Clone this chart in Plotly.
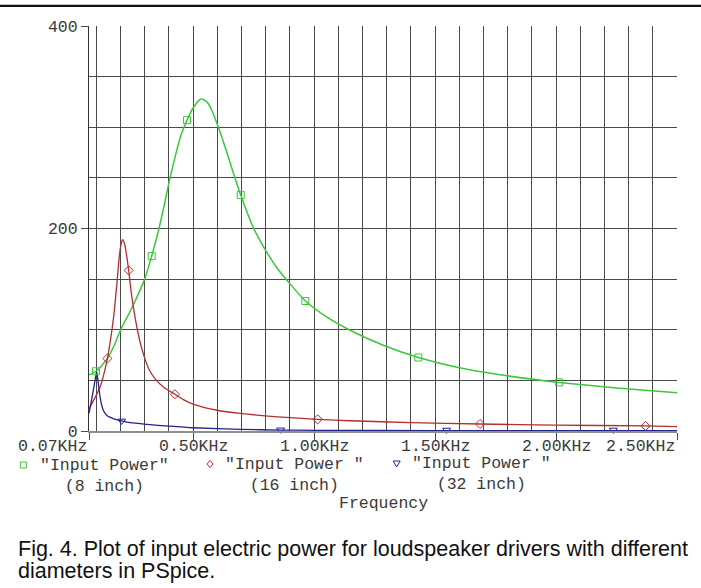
import plotly.graph_objects as go

# ---------------- data ----------------
green_f = [0.07, 0.10, 0.146, 0.173, 0.201, 0.25, 0.30, 0.329, 0.355, 0.38, 0.40, 0.425,
           0.45, 0.475, 0.50, 0.532, 0.555, 0.575, 0.60, 0.625, 0.653, 0.697, 0.749, 0.801,
           0.85, 0.90, 0.964, 1.05, 1.149, 1.286, 1.431, 1.60, 1.80, 2.013, 2.25, 2.5]
green_p = [55.5, 59, 71.6, 84, 100, 123, 150, 172.7, 196, 222, 245, 270,
           292, 307, 319, 328, 325.5, 318, 303, 286, 265, 233, 201, 178,
           160, 145.5, 128.4, 113, 99.5, 84.7, 72.6, 62.5, 54.5, 48, 42.5, 37.7]

red_f = [0.07, 0.095, 0.115, 0.13, 0.146, 0.16, 0.173, 0.185, 0.195, 0.203, 0.209, 0.217,
         0.225, 0.234, 0.245, 0.257, 0.27, 0.285, 0.30, 0.32, 0.345, 0.38, 0.425, 0.46,
         0.50, 0.60, 0.694, 0.85, 1.015, 1.149, 1.40, 1.686, 2.0, 2.37, 2.5]
red_p = [22, 33, 43, 55, 71.6, 92, 115, 145, 172, 185, 189, 185,
         174, 158.6, 136, 117, 100, 84, 72, 60, 51, 43, 36.3, 31,
         26.6, 20.5, 17.4, 14, 11.5, 10.1, 8.3, 6.9, 5.8, 5, 4.3]

blue_f = [0.07, 0.08, 0.09, 0.097, 0.102, 0.107, 0.112, 0.12, 0.13, 0.145, 0.17, 0.205,
          0.24, 0.31, 0.40, 0.50, 0.70, 0.862, 1.0, 1.5, 2.0, 2.5]
blue_p = [17.4, 30, 43, 53, 58.4, 50, 40, 28, 20, 15, 12.3, 10,
          8.2, 6.5, 4.8, 3.2, 1.6, 0.9, 0.7, 0.4, 0.3, 0.3]

# marker positions along each trace
green_mf = [0.099, 0.329, 0.475, 0.697, 0.964, 1.431, 2.013]
green_mp = [59, 172.7, 307, 233, 128.4, 72.6, 48]
red_mf = [0.146, 0.234, 0.425, 1.015, 1.686, 2.37]
red_mp = [71.6, 158.6, 36.3, 11.5, 6.9, 5]
blue_mf = [0.205, 0.862, 1.548, 2.237]
blue_mp = [10, 1.2, 1.0, 1.0]

x_tick_vals = [0.07, 0.5, 1.0, 1.5, 2.0, 2.5]
x_tick_text = ["0.07KHz", "0.50KHz", "1.00KHz", "1.50KHz", "2.00KHz", "2.50KHz"]
y_tick_vals = [0, 200, 400]
y_tick_text = ["0", "200", "400"]

series_names = ['"Input Power"', '"Input Power "', '"Input Power "']
series_sub = ["(8 inch)", "(16 inch)", "(32 inch)"]
colors = ["#3cc83c", "#b42d32", "#23238c"]
x_title = "Frequency"
caption1 = "Fig. 4. Plot of input electric power for loudspeaker drivers with different"
caption2 = "diameters in PSpice."

# ---------------- layout helpers ----------------
L, R, T, B = 89, 677, 26, 431
W, H = R - L, B - T


def px(x):
    return (x - L) / W


def py(y):
    return (B - y) / H


MONO = "Liberation Mono, Courier New, monospace"
SANS = "Liberation Sans, Arial, sans-serif"
TXT = "#3a3a3a"
GRID = "#4a4a4a"

fig = go.Figure()

for f, p, c, w in [(green_f, green_p, colors[0], 1.5),
                   (red_f, red_p, colors[1], 1.3),
                   (blue_f, blue_p, colors[2], 1.3)]:
    fig.add_trace(go.Scatter(x=f, y=p, mode="lines",
                             line=dict(color=c, width=w, shape="spline", smoothing=0.6),
                             showlegend=False, hoverinfo="skip"))

for f, p, c, sym in [(green_mf, green_mp, colors[0], "square-open"),
                     (red_mf, red_mp, colors[1], "diamond-open"),
                     (blue_mf, blue_mp, colors[2], "triangle-down-open")]:
    fig.add_trace(go.Scatter(x=f, y=p, mode="markers",
                             marker=dict(symbol=sym, size=7, color=c, line=dict(width=1, color=c)),
                             showlegend=False, hoverinfo="skip", cliponaxis=False))

annotations = []
anchors = ["right", "center", "center", "center", "center", "right"]
for v, t, a in zip(x_tick_vals, x_tick_text, anchors):
    annotations.append(dict(x=v, xref="x", y=py(447), yref="paper", text=t, showarrow=False,
                            xanchor=a, yanchor="middle", font=dict(family=MONO, size=16.5, color=TXT)))

# legend (PSpice style, under the axis)
leg_sym_x = [23.3, 210, 396.7]
leg_sym_y = [465, 464, 464]
leg_cx = [104, 294, 481]
leg_cy = [476.5, 475, 474]
for i in range(3):
    annotations.append(dict(x=px(leg_cx[i]), xref="paper", y=py(leg_cy[i]), yref="paper",
                            text=series_names[i] + "<br>" + series_sub[i], showarrow=False,
                            xanchor="center", yanchor="middle", align="center",
                            font=dict(family=MONO, size=16.5, color=TXT)))

annotations.append(dict(x=px(383), xref="paper", y=py(503), yref="paper", text=x_title,
                        showarrow=False, xanchor="center", yanchor="middle",
                        font=dict(family=MONO, size=16.5, color=TXT)))
annotations.append(dict(x=px(15.5), xref="paper", y=py(549), yref="paper", text=caption1,
                        showarrow=False, xanchor="left", yanchor="middle",
                        font=dict(family=SANS, size=21.5, color="#111111")))
annotations.append(dict(x=px(15.5), xref="paper", y=py(571), yref="paper", text=caption2,
                        showarrow=False, xanchor="left", yanchor="middle",
                        font=dict(family=SANS, size=21.5, color="#111111")))

shapes = []
# page rule at the top
shapes.append(dict(type="line", xref="paper", yref="paper", x0=px(0), x1=px(701),
                   y0=py(5.8), y1=py(5.8), line=dict(color="#111111", width=2.3)))
# legend symbols
s = 3
sy = leg_sym_y[0]
shapes.append(dict(type="rect", xref="paper", yref="paper",
                   x0=px(leg_sym_x[0] - s), x1=px(leg_sym_x[0] + s),
                   y0=py(sy - s), y1=py(sy + s), line=dict(color=colors[0], width=1)))
dx, dy = leg_sym_x[1], leg_sym_y[1]
shapes.append(dict(type="path", xref="paper", yref="paper",
                   path=f"M {px(dx)} {py(dy - 3.5)} L {px(dx + 3)} {py(dy)} L {px(dx)} {py(dy + 3.5)} L {px(dx - 3)} {py(dy)} Z",
                   line=dict(color=colors[1], width=1)))
tx, ty = leg_sym_x[2], leg_sym_y[2]
shapes.append(dict(type="path", xref="paper", yref="paper",
                   path=f"M {px(tx - 3.5)} {py(ty - 3)} L {px(tx + 3.5)} {py(ty - 3)} L {px(tx)} {py(ty + 3)} Z",
                   line=dict(color=colors[2], width=1)))

fig.update_layout(
    width=701, height=588,
    margin=dict(l=L, r=701 - R, t=T, b=588 - B),
    paper_bgcolor="white", plot_bgcolor="white",
    showlegend=False,
    annotations=annotations,
    shapes=shapes,
    xaxis=dict(range=[0.07, 2.5], tickmode="array", tickvals=x_tick_vals, showticklabels=False,
               ticks="outside", ticklen=7, tickcolor=GRID, tickwidth=1,
               showgrid=True, gridcolor=GRID, gridwidth=1, zeroline=False,
               showline=True, linecolor="#8f8f8f", linewidth=2,
               minor=dict(tickmode="linear", tick0=0, dtick=0.1, showgrid=True,
                          gridcolor=GRID, gridwidth=1, ticks=""),
               fixedrange=True),
    yaxis=dict(range=[0, 400], tickmode="array", tickvals=y_tick_vals, ticktext=y_tick_text,
               ticks="outside", ticklen=7, tickcolor=GRID, tickwidth=1,
               tickfont=dict(family=MONO, size=16.5, color=TXT),
               showgrid=True, gridcolor=GRID, gridwidth=1, zeroline=False,
               showline=True, linecolor="#333333", linewidth=1,
               minor=dict(tickmode="linear", tick0=0, dtick=50, showgrid=True,
                          gridcolor=GRID, gridwidth=1, ticks=""),
               fixedrange=True),
)

fig.write_html("out.html")
